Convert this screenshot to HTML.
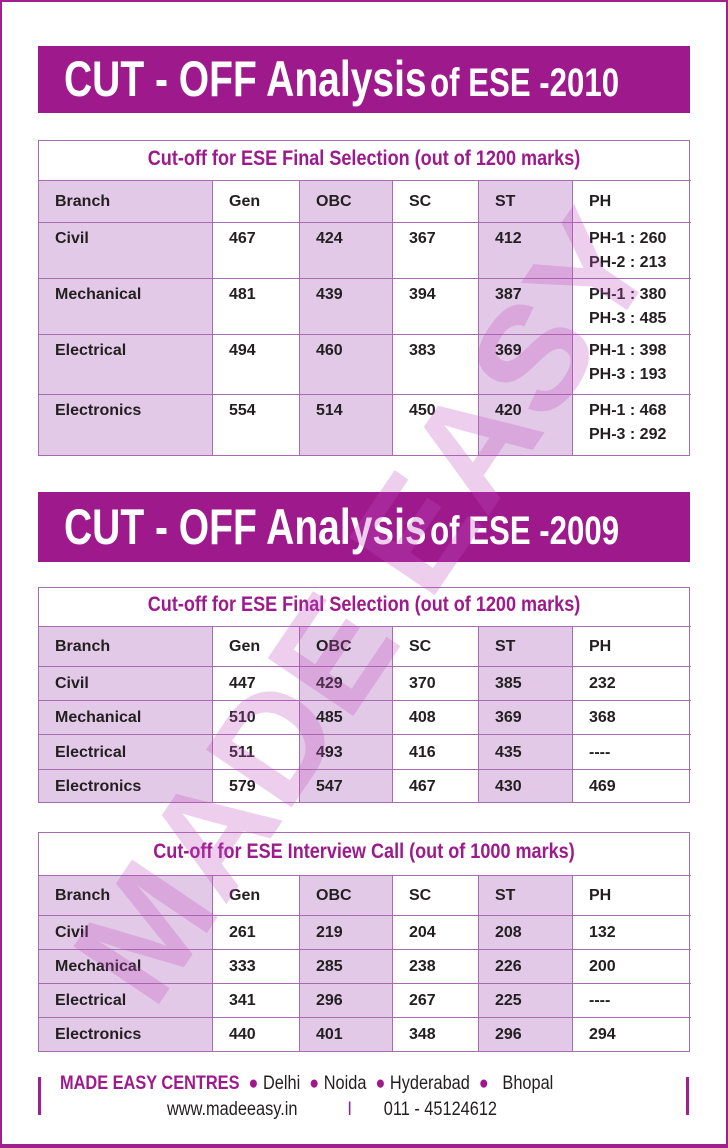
<!DOCTYPE html>
<html><head><meta charset="utf-8"><style>
*{margin:0;padding:0;box-sizing:border-box}
body{width:728px;height:1148px;position:relative;background:#fff;overflow:hidden;font-family:"Liberation Sans",sans-serif}
.frame{position:absolute;left:0;top:0;width:728px;height:1148px;border:2px solid #a0208e;border-bottom-width:4px}
.banner{position:absolute;left:38px;width:652px;background:#9e1a8c;color:#fff;font-weight:bold;white-space:nowrap}
.banner span.t{position:absolute;left:26px;transform-origin:left center;transform:scaleX(0.78)}
.tbl{position:absolute;left:38px;width:652px;border:1px solid #a76bb0}
.ttl{position:absolute;left:0;width:650px;text-align:center;color:#9e1a8c;font-weight:bold;font-size:21px;transform:scaleX(0.86);white-space:nowrap}
.cell{position:absolute;border-left:1px solid #a76bb0;border-top:1px solid #a76bb0;font-weight:bold;font-size:16px;color:#231f20;padding-left:16px;line-height:24px}
.sh{background:#e3c9e8}
.wm{position:absolute;left:-135px;top:520px;width:1000px;text-align:center;font-size:150px;font-weight:bold;color:rgba(190,80,190,0.28);transform:rotate(-56deg);white-space:nowrap;letter-spacing:2px}
.foot{position:absolute;font-size:19px;color:#231f20;white-space:nowrap;transform-origin:left top;transform:scaleX(0.86)}
.bar{position:absolute;width:3px;background:#a0208e}
</style></head><body>
<div class="frame"></div>
<div id="tables"></div>
<div class="banner" style="top:46px;height:67px"><span class="t" style="top:4px"><span style="font-size:50px">CUT - OFF Analysis</span> <span style="font-size:40px">of ESE -2010</span></span></div>
<div class="banner" style="top:492px;height:70px"><span class="t" style="top:6px"><span style="font-size:50px">CUT - OFF Analysis</span> <span style="font-size:40px">of ESE -2009</span></span></div>
<div class="wm">MADE EASY</div>
<div class="bar" style="left:38px;top:1077px;height:38px"></div>
<div class="bar" style="left:686px;top:1077px;height:38px"></div>
<div class="foot" style="left:60px;top:1073px"><b style="color:#9e1a8c">MADE EASY CENTRES</b> &nbsp;<span style="color:#9e1a8c">●</span> Delhi &nbsp;<span style="color:#9e1a8c">●</span> Noida &nbsp;<span style="color:#9e1a8c">●</span> Hyderabad &nbsp;<span style="color:#9e1a8c">●</span> &nbsp; Bhopal</div>
<div class="foot" style="left:167px;top:1099px">www.madeeasy.in &nbsp; &nbsp; &nbsp; &nbsp; &nbsp; <span style="color:#9e1a8c">I</span> &nbsp; &nbsp; &nbsp; 011 - 45124612</div>
<script>
const headers=["Branch","Gen","OBC","SC","ST","PH"];
const branches=["Civil","Mechanical","Electrical","Electronics"];
const gen2010=["467","481","494","554"];
const obc2010=["424","439","460","514"];
const sc2010=["367","394","383","450"];
const st2010=["412","387","369","420"];
const ph2010=["PH-1 : 260<br>PH-2 : 213","PH-1 : 380<br>PH-3 : 485","PH-1 : 398<br>PH-3 : 193","PH-1 : 468<br>PH-3 : 292"];
const gen2009=["447","510","511","579"];
const obc2009=["429","485","493","547"];
const sc2009=["370","408","416","467"];
const st2009=["385","369","435","430"];
const ph2009=["232","368","----","469"];
const genInt=["261","333","341","440"];
const obcInt=["219","285","296","401"];
const scInt=["204","238","267","348"];
const stInt=["208","226","225","296"];
const phInt=["132","200","----","294"];
const colX=[0,173,260,353,439,533,652];
const root=document.getElementById('tables');
function makeTable(name,top,titleH,title,rowYs,cols){
  const t=document.createElement('div');
  t.className='tbl';
  
  
  t.style.top=top+'px';t.style.height=(rowYs[rowYs.length-1]+2)+'px';
  const tt=document.createElement('div');
  tt.className='ttl';
  
  
  tt.style.top=(titleH/2-14)+'px';
  tt.textContent=title;
  t.appendChild(tt);
  const rows=[headers].concat(branches.map((b,i)=>[b].concat(cols.map(c=>c[i]))));
  rows.forEach((r,ri)=>{
    r.forEach((v,ci)=>{
      const c=document.createElement('div');
      c.className='cell'+(ci%2===0?' sh':'');
      
      
      c.style.left=colX[ci]+'px';c.style.width=(colX[ci+1]-colX[ci])+'px';
      c.style.top=rowYs[ri]+'px';c.style.height=(rowYs[ri+1]-rowYs[ri])+'px';
      c.style.paddingTop=(rowYs[ri+1]-rowYs[ri]>45?4:(rowYs[ri+1]-rowYs[ri]-24)/2)+'px';
      if(ci===0)c.style.borderLeft='none';
      c.innerHTML=v;
      t.appendChild(c);
    });
  });
  root.appendChild(t);
}
makeTable('table-2010-final',140,39,'Cut-off for ESE Final Selection (out of 1200 marks)',[39,81,137,193,253,314],[gen2010,obc2010,sc2010,st2010,ph2010]);
makeTable('table-2009-final',587,38,'Cut-off for ESE Final Selection (out of 1200 marks)',[38,78,112,146,181,214],[gen2009,obc2009,sc2009,st2009,ph2009]);
makeTable('table-interview-call',832,42,'Cut-off for ESE Interview Call (out of 1000 marks)',[42,82,116,150,184,218],[genInt,obcInt,scInt,stInt,phInt]);
</script>
</body></html>
